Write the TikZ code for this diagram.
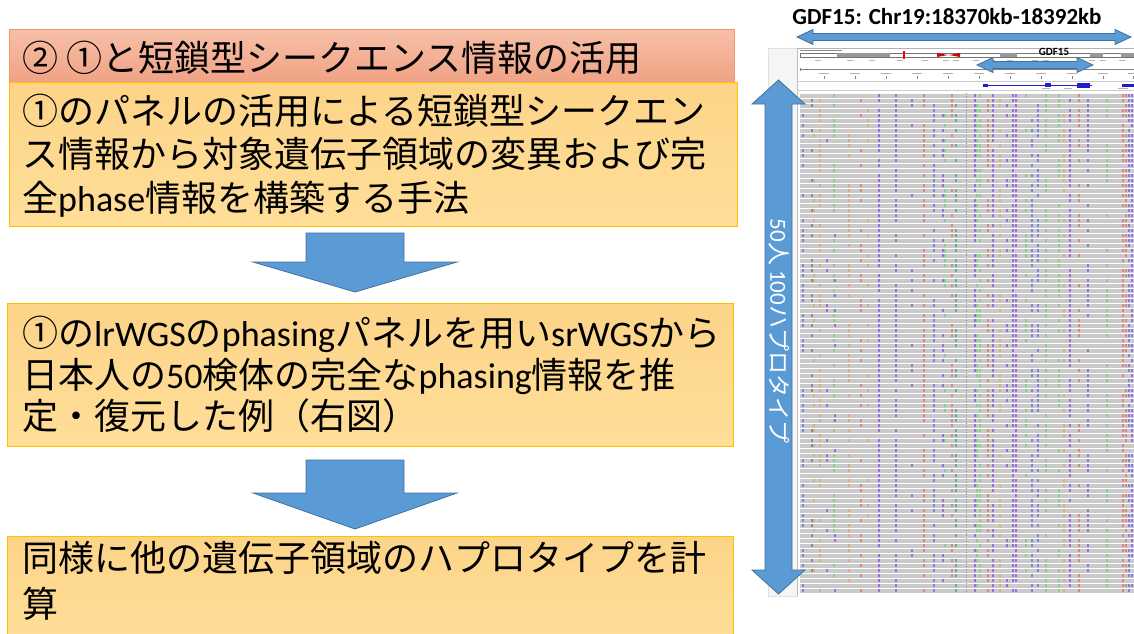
\documentclass[tikz,border=0pt]{standalone}
\usepackage{fontspec}
\setmainfont{Noto Sans CJK JP}
\newfontfamily\lat{Carlito}
\definecolor{ttop}{RGB}{247,192,168}
\definecolor{tbot}{RGB}{240,162,132}
\definecolor{tborder}{RGB}{240,150,110}
\definecolor{btop}{RGB}{252,212,136}
\definecolor{bbot}{RGB}{255,222,152}
\definecolor{bborder}{RGB}{255,192,0}
\definecolor{arrfill}{RGB}{91,155,213}
\definecolor{arrline}{RGB}{65,113,156}
\definecolor{rowgray}{RGB}{202,202,202}
\definecolor{ipurple}{RGB}{150,95,230}
\definecolor{ired}{RGB}{228,122,110}
\definecolor{igreen}{RGB}{120,212,120}
\definecolor{iorange}{RGB}{226,168,112}
\definecolor{iblue}{RGB}{118,118,228}
\definecolor{iteal}{RGB}{80,170,150}
\definecolor{idark}{RGB}{130,130,130}
\definecolor{gene}{RGB}{30,30,200}
\begin{document}
\begin{tikzpicture}[x=1pt,y=-1pt,
  titlebox/.style={draw=tborder,line width=0.8pt,top color=ttop,bottom color=tbot,anchor=north west,inner sep=0pt,outer sep=0pt},
  stepbox/.style={draw=bborder,line width=0.8pt,top color=btop,bottom color=bbot,anchor=north west,inner sep=0pt,outer sep=0pt},
  jp/.style={anchor=base west,inner sep=0pt,font=\fontsize{36}{43}\selectfont},
  blockarrow/.style={fill=arrfill,draw=arrline,line width=0.8pt,line join=miter},
  varmark/.style={line width=1.05pt,opacity=0.85}
]
\useasboundingbox (0,0) rectangle (1134,633);
\fill[white] (0,0) rectangle (1134,633);

% ---- left boxes
\node[titlebox,minimum width=725pt,minimum height=53pt] (title) at (9,29) {};
\node[stepbox,minimum width=728pt,minimum height=144pt] (box1) at (9,82) {};
\node[stepbox,minimum width=726pt,minimum height=143pt] (box2) at (7,303) {};
\node[stepbox,minimum width=726pt,minimum height=104pt] (box3) at (7,536) {};

\node[jp] (tt) at (22,71) {② ①と短鎖型シークエンス情報の活用};
\node[jp] (a1) at (22,124) {①のパネルの活用による短鎖型シークエン};
\node[jp] (a2) at (22,167) {ス情報から対象遺伝子領域の変異および完};
\node[jp] (a3) at (22,211) {全{\lat phase}情報を構築する手法};
\node[jp] (b1) at (22,346) {①の{\lat lrWGS}の{\lat phasing}パネルを用い{\lat srWGS}から};
\node[jp] (b2) at (22,388) {日本人の{\lat 50}検体の完全な{\lat phasing}情報を推};
\node[jp] (b3) at (22,429) {定・復元した例（右図）};
\node[jp] (c1) at (22,571) {同様に他の遺伝子領域のハプロタイプを計};
\node[jp] (c2) at (22,617) {算};

% ---- down block arrows
\draw[blockarrow] (306,233) -- (404,233) -- (404,262) -- (457,262) -- (355,292) -- (253,262) -- (306,262) -- cycle;
\draw[blockarrow] (306,460) -- (404,460) -- (404,493) -- (457,493) -- (355,529) -- (253,493) -- (306,493) -- cycle;

% ---- screenshot panel
\fill[black!4] (768,48) rectangle (797,596);
\draw[black!12] (768,48) rectangle (797,596);
\fill[white] (797,48) rectangle (1134,93);
\draw[black!30] (797,48) -- (1134,48);
\draw[black!25] (797,48) -- (797,596);
% tiny locus label placeholder
\fill[black!45] (800,49.5) rectangle (842,51);
% ideogram
\draw[black!55,line width=0.4pt] (800,53) rectangle (1134,57);
\fill[black!40] (837,53) rectangle (890,57);
\fill[black!40] (1000,53) rectangle (1017,57);
\fill[black!40] (1090,53) rectangle (1103,57);
\fill[black!40] (1121,53) rectangle (1134,57);
\fill[red] (902.5,51) rectangle (904.5,59);
\fill[red!85!black] (937,53) -- (948,55) -- (937,57) -- cycle;
\fill[red!85!black] (960,53) -- (949,55) -- (960,57) -- cycle;
\foreach \x in {818,850,872,900,925,946,956,976,992,1010,1035,1046,1092,1103,1122}
  \fill[black!30] (\x-3,59.5) rectangle (\x+3,60.5);
% ruler
\draw[black!50,line width=0.4pt] (800,69) -- (1134,69);
\draw[black!50,line width=0.4pt] (800,67.5) -- (800,70.5);
\foreach \x in {824,855,886,917,948,979,1010,1041,1072,1103,1133}{
  \fill[black!30] (\x-5,73) rectangle (\x+5,74);
  \draw[black!50,line width=0.4pt] (\x,76) -- (\x,79);
}
\draw[black!20] (797,81) -- (1134,81);
\draw[black!20] (797,90) -- (1134,90);
% gene track
\draw[gene,line width=0.6pt] (983,85) -- (1092,85);
\fill[gene] (983,83.5) rectangle (988,86.5);
\fill[gene] (1045,83) rectangle (1051,87);
\fill[gene] (1077,82.5) rectangle (1090,87.5);
\fill[gene] (1122,83.5) rectangle (1134,86.5);
\fill[black!30] (1042,88) rectangle (1050,89);
\fill[black!30] (1064,88) rectangle (1072,89);
\fill[black!30] (1118,88) rectangle (1128,89);

% haplotype rows
\fill[rowgray] (800,93) rectangle (1134,593);
\foreach \i in {0,...,100}
  \draw[white,line width=0.7pt] (800,93+5*\i) -- (1134,93+5*\i);
\draw[black!45,dotted,line width=0.8pt] (966,93) -- (966,593);
\pgfmathsetseed{11}
\foreach \x/\c/\p in {803/iblue/0.35,812/idark/0.3,814/iorange/0.25,820/iorange/0.45,827/ipurple/0.08,
  834/igreen/0.5,835/ipurple/0.12,849/iorange/0.5,861/ired/0.35,868/iorange/0.15,879/ipurple/0.9,
  896/ipurple/0.85,912/ipurple/0.12,924/ired/0.7,934/iblue/0.6,943/ipurple/0.45,945/igreen/0.3,
  952/ired/0.4,956/iteal/0.6,975/ipurple/0.85,977/igreen/0.45,980/igreen/0.6,988/ired/0.6,
  993/ipurple/0.85,1000/iorange/0.4,1007/ipurple/0.25,1013/ipurple/0.9,1016/ipurple/0.9,
  1026/igreen/0.3,1032/iblue/0.6,1038/iblue/0.6,1046/igreen/0.5,1059/igreen/0.5,1064/iorange/0.4,
  1070/ipurple/0.85,1079/ired/0.5,1088/ipurple/0.5,1107/igreen/0.5,1123/ired/0.7,1126/ired/0.6,
  1129/iblue/0.7,1132/ipurple/0.7}{
  \foreach \i in {0,...,99}{
    \pgfmathsetmacro\r{rnd}
    \ifdim\r pt<\p pt
      \draw[\c,varmark] (\x,93.6+5*\i) -- (\x,97.4+5*\i);
    \fi
  }
}

% ---- blue double arrows
\draw[blockarrow] (797,37) -- (813,29.5) -- (813,33.5) -- (1115,33.5) -- (1115,29.5) -- (1131,37)
  -- (1115,44.5) -- (1115,40.5) -- (813,40.5) -- (813,44.5) -- cycle;
\draw[blockarrow] (977,65) -- (993,57.5) -- (993,61.5) -- (1077,61.5) -- (1077,57.5) -- (1093,65)
  -- (1077,72.5) -- (1077,68.5) -- (993,68.5) -- (993,72.5) -- cycle;
\draw[blockarrow] (778.5,80) -- (805,104) -- (792,104) -- (792,570) -- (805,570) -- (778.5,594)
  -- (752,570) -- (765,570) -- (765,104) -- (752,104) -- cycle;

% ---- labels
\node[font=\lat\bfseries\fontsize{23}{27}\selectfont,inner sep=0pt] (gdfhead) at (947,17) {GDF15: Chr19:18370kb-18392kb};
\node[font=\lat\bfseries\fontsize{11}{13}\selectfont,inner sep=0pt] (gdflab) at (1054,52) {GDF15};
\node[rotate=-90,text=white,inner sep=0pt,font=\fontsize{23}{27}\selectfont] (vlab) at (779,331) {{\lat 50}人 {\lat 100}ハプロタイプ};
\end{tikzpicture}
\end{document}
